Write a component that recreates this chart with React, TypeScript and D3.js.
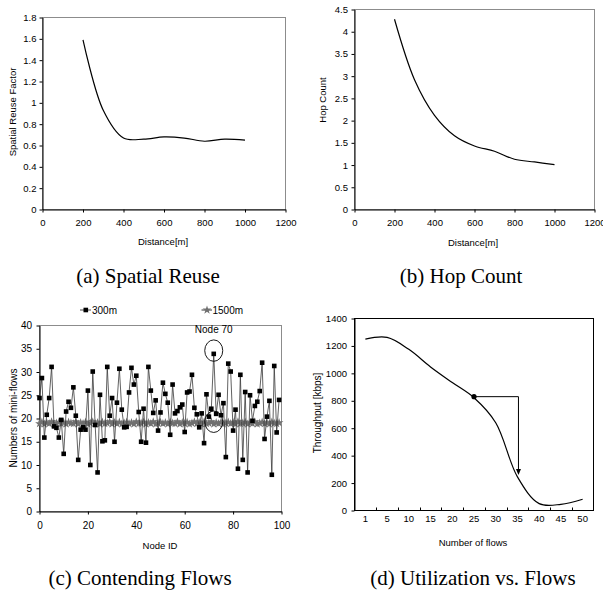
import React, { useEffect, useRef } from 'react';
import * as d3 from 'd3';

// (a) and (b)
const distances = [200, 300, 400, 500, 600, 700, 800, 900, 1000];
const reuseFactor = [1.59, 0.93, 0.67, 0.66, 0.68, 0.67, 0.64, 0.66, 0.65];
const hopCount = [4.28, 2.92, 2.12, 1.66, 1.43, 1.31, 1.13, 1.07, 1.01];
const distanceTicks = [0, 200, 400, 600, 800, 1000, 1200];
const reuseTicks = [0, 0.2, 0.4, 0.6, 0.8, 1, 1.2, 1.4, 1.6, 1.8];
const hopTicks = [0, 0.5, 1, 1.5, 2, 2.5, 3, 3.5, 4, 4.5];

// (c) contending flows per node
const flows300 = [
  24.4, 28.7, 15.9, 20.8, 24.4, 31.1, 18.3, 18.0, 15.9, 19.7,
  12.4, 21.5, 23.6, 22.3, 26.7, 20.6, 11.1, 17.6, 18.1, 17.6,
  26.0, 10.0, 30.1, 18.6, 8.4, 25.1, 15.1, 15.3, 31.1, 20.6,
  24.4, 15.0, 23.4, 30.7, 21.9, 18.1, 18.2, 25.6, 30.9, 27.3,
  29.2, 21.4, 15.0, 22.1, 14.8, 31.1, 26.0, 21.2, 23.9, 17.4,
  21.3, 27.7, 25.3, 23.4, 16.5, 27.3, 21.1, 21.6, 22.4, 23.0,
  17.1, 25.6, 25.8, 29.4, 22.3, 20.9, 18.1, 21.1, 14.7, 25.2,
  20.4, 22.1, 33.9, 21.0, 25.1, 20.7, 23.3, 11.7, 31.8, 30.1,
  17.4, 21.9, 9.2, 29.4, 11.1, 25.7, 8.4, 25.0, 19.5, 22.7,
  23.6, 25.9, 32.0, 15.6, 20.4, 23.8, 7.9, 31.3, 17.0, 24.0,
];
const flows1500 = [
  18.9, 19.2, 18.8, 19.1, 18.9, 19.3, 18.8, 19.0, 19.2, 18.9,
  19.1, 18.8, 19.2, 19.0, 18.9, 19.3, 18.8, 19.1, 18.9, 19.2,
  18.8, 19.0, 19.3, 18.9, 19.1, 18.8, 19.2, 18.9, 19.0, 19.3,
  18.8, 19.1, 18.9, 19.2, 18.8, 19.0, 19.2, 18.9, 19.1, 18.8,
  19.3, 18.9, 19.0, 19.2, 18.8, 19.1, 18.9, 19.3, 18.8, 19.0,
  19.2, 18.9, 19.1, 18.8, 19.2, 19.0, 18.9, 19.3, 18.8, 19.1,
  18.9, 19.2, 18.8, 19.0, 19.3, 18.9, 19.1, 18.8, 19.2, 18.9,
  19.0, 19.3, 18.8, 19.1, 18.9, 19.2, 18.8, 19.0, 19.2, 18.9,
  19.1, 18.8, 19.3, 18.9, 19.0, 19.2, 18.8, 19.1, 18.9, 19.3,
  18.8, 19.0, 19.2, 18.9, 19.1, 18.8, 19.2, 19.0, 18.9, 19.1,
];
const nodeTicks = [0, 20, 40, 60, 80, 100];
const miniFlowTicks = [0, 5, 10, 15, 20, 25, 30, 35, 40];
const highlightNode = 72;
const highlightLevels = [34.6, 19.3];

// (d) throughput vs number of flows
const flowCats = ['1', '5', '10', '15', '20', '25', '30', '35', '40', '45', '50'];
const throughput = [1250, 1262, 1175, 1047, 933, 822, 640, 245, 50, 45, 82];
const throughputTicks = [0, 200, 400, 600, 800, 1000, 1200, 1400];
const arrowFrom = { cat: '25', value: 830 };
const arrowTo = { cat: '35', value: 258 };

const SANS = '"Liberation Sans", Arial, sans-serif';
const SERIF = '"Liberation Serif", "Times New Roman", serif';

const styleAxis = (g, size) => {
  g.attr('font-family', SANS).attr('font-size', size);
  g.select('.domain').attr('stroke', '#000');
  g.selectAll('.tick line').attr('stroke', '#000');
  g.selectAll('.tick text').attr('fill', '#000');
};

const frame = (svg, x, y, color = '#8c8c8c') => {
  svg.append('rect')
    .attr('x', x.range()[0])
    .attr('y', y.range()[1])
    .attr('width', x.range()[1] - x.range()[0])
    .attr('height', y.range()[0] - y.range()[1])
    .attr('fill', 'none')
    .attr('stroke', color);
};

const label = (svg, text, x, y, size, rotate = false) => {
  const t = svg.append('text')
    .attr('font-family', SANS)
    .attr('font-size', size)
    .attr('text-anchor', 'middle')
    .attr('fill', '#000')
    .text(text);
  if (rotate) t.attr('transform', `translate(${x},${y}) rotate(-90)`).attr('dy', '0.35em');
  else t.attr('x', x).attr('y', y);
};

const caption = (svg, text, x, y) => {
  svg.append('text')
    .attr('x', x)
    .attr('y', y)
    .attr('font-family', SERIF)
    .attr('font-size', 21)
    .attr('text-anchor', 'middle')
    .attr('fill', '#000')
    .text(text);
};

const App = () => {
  const ref = useRef(null);

  useEffect(() => {
    const svg = d3.select(ref.current);
    svg.selectAll('*').remove();
    const fmt = d3.format('~g');
    const intFmt = d3.format('d');

    // ---------- (a) Spatial Reuse ----------
    const xA = d3.scaleLinear().domain([0, 1200]).range([42.5, 285.5]);
    const yA = d3.scaleLinear().domain([0, 1.8]).range([209.5, 17.5]);
    frame(svg, xA, yA);
    svg.append('g').attr('transform', `translate(0,${yA(0)})`)
      .call(d3.axisBottom(xA).tickValues(distanceTicks).tickFormat(intFmt).tickSize(3).tickSizeOuter(0).tickPadding(7))
      .call(g => styleAxis(g, 9.5));
    svg.append('g').attr('transform', `translate(${xA(0)},0)`)
      .call(d3.axisLeft(yA).tickValues(reuseTicks).tickFormat(fmt).tickSize(3).tickSizeOuter(0).tickPadding(3))
      .call(g => styleAxis(g, 9.5));
    svg.append('path')
      .datum(distances.map((d, i) => [d, reuseFactor[i]]))
      .attr('fill', 'none')
      .attr('stroke', '#000')
      .attr('stroke-width', 1.2)
      .attr('d', d3.line().x(d => xA(d[0])).y(d => yA(d[1])).curve(d3.curveCatmullRom));
    label(svg, 'Distance[m]', 163, 244.5, 9.5);
    label(svg, 'Spatial Reuse Factor', 13, 112, 9.5, true);
    caption(svg, '(a) Spatial Reuse', 148, 283);

    // ---------- (b) Hop Count ----------
    const xB = d3.scaleLinear().domain([0, 1200]).range([354.5, 594.5]);
    const yB = d3.scaleLinear().domain([0, 4.5]).range([209.5, 9.5]);
    frame(svg, xB, yB);
    svg.append('g').attr('transform', `translate(0,${yB(0)})`)
      .call(d3.axisBottom(xB).tickValues(distanceTicks).tickFormat(intFmt).tickSize(3).tickSizeOuter(0).tickPadding(7))
      .call(g => styleAxis(g, 9.5));
    svg.append('g').attr('transform', `translate(${xB(0)},0)`)
      .call(d3.axisLeft(yB).tickValues(hopTicks).tickFormat(fmt).tickSize(3).tickSizeOuter(0).tickPadding(3.5))
      .call(g => styleAxis(g, 9.5));
    svg.append('path')
      .datum(distances.map((d, i) => [d, hopCount[i]]))
      .attr('fill', 'none')
      .attr('stroke', '#000')
      .attr('stroke-width', 1.2)
      .attr('d', d3.line().x(d => xB(d[0])).y(d => yB(d[1])).curve(d3.curveCatmullRom));
    label(svg, 'Distance[m]', 473, 246, 9.5);
    label(svg, 'Hop Count', 323, 100, 9.5, true);
    caption(svg, '(b) Hop Count', 461, 283);

    // ---------- (c) Contending Flows ----------
    const xC = d3.scaleLinear().domain([0, 100]).range([39.5, 281.5]);
    const yC = d3.scaleLinear().domain([0, 40]).range([511.5, 325.5]);
    frame(svg, xC, yC);
    svg.append('g').attr('transform', `translate(0,${yC(0)})`)
      .call(d3.axisBottom(xC).tickValues(nodeTicks).tickSize(3).tickSizeOuter(0).tickPadding(7))
      .call(g => styleAxis(g, 10));
    svg.append('g').attr('transform', `translate(${xC(0)},0)`)
      .call(d3.axisLeft(yC).tickValues(miniFlowTicks).tickSize(3).tickSizeOuter(0).tickPadding(4.5))
      .call(g => styleAxis(g, 10));

    const lineC = d3.line().x((d, i) => xC(i)).y(d => yC(d));
    const star = d3.symbol().type(d3.symbolStar).size(24);

    svg.append('path').datum(flows1500)
      .attr('fill', 'none').attr('stroke', '#707070').attr('stroke-width', 1.6).attr('d', lineC);
    svg.append('g').selectAll('path').data(flows1500).enter().append('path')
      .attr('transform', (d, i) => `translate(${xC(i)},${yC(d)})`)
      .attr('d', star)
      .attr('fill', '#707070');

    svg.append('path').datum(flows300)
      .attr('fill', 'none').attr('stroke', '#3a3a3a').attr('stroke-width', 0.8).attr('d', lineC);
    svg.append('g').selectAll('rect').data(flows300).enter().append('rect')
      .attr('x', (d, i) => xC(i) - 2.3)
      .attr('y', d => yC(d) - 2.3)
      .attr('width', 4.6)
      .attr('height', 4.6)
      .attr('fill', '#000');

    svg.append('g').selectAll('ellipse').data(highlightLevels).enter().append('ellipse')
      .attr('cx', xC(highlightNode))
      .attr('cy', d => yC(d))
      .attr('rx', 9)
      .attr('ry', 10.7)
      .attr('fill', 'none')
      .attr('stroke', '#000')
      .attr('stroke-width', 0.9);
    label(svg, 'Node 70', xC(highlightNode), yC(38.3), 10);

    // legend
    svg.append('line').attr('x1', 80).attr('x2', 91).attr('y1', 310).attr('y2', 310)
      .attr('stroke', '#3a3a3a').attr('stroke-width', 0.9);
    svg.append('rect').attr('x', 83.5).attr('y', 307.7).attr('width', 4.6).attr('height', 4.6).attr('fill', '#000');
    svg.append('text').attr('x', 92).attr('y', 313.5).attr('font-family', SANS).attr('font-size', 10).text('300m');
    svg.append('line').attr('x1', 201.5).attr('x2', 212).attr('y1', 310).attr('y2', 310)
      .attr('stroke', '#707070').attr('stroke-width', 1.4);
    svg.append('path').attr('transform', 'translate(207,310)').attr('d', star).attr('fill', '#707070');
    svg.append('text').attr('x', 212.5).attr('y', 313.5).attr('font-family', SANS).attr('font-size', 10).text('1500m');

    label(svg, 'Node ID', 160, 548.5, 9.5);
    label(svg, 'Numbers of mini-flows', 13, 418, 10, true);
    caption(svg, '(c) Contending Flows', 140, 585);

    // ---------- (d) Utilization vs. Flows ----------
    const xD = d3.scaleBand().domain(flowCats).range([354.5, 593.5]).padding(0);
    const yD = d3.scaleLinear().domain([0, 1400]).range([510.5, 318.5]);
    const cx = c => xD(c) + xD.bandwidth() / 2;
    frame(svg, xD, yD, '#000');
    svg.append('g').attr('transform', `translate(${xD.range()[0]},0)`)
      .call(d3.axisLeft(yD).tickValues(throughputTicks).tickFormat(intFmt).tickSize(3).tickSizeOuter(0).tickPadding(4.5))
      .call(g => styleAxis(g, 9.5));
    svg.append('g').selectAll('line').data(flowCats.slice(1)).enter().append('line')
      .attr('x1', d => Math.round(xD(d)) + 0.5)
      .attr('x2', d => Math.round(xD(d)) + 0.5)
      .attr('y1', yD(0))
      .attr('y2', yD(0) - 3)
      .attr('stroke', '#000');
    svg.append('g').selectAll('text').data(flowCats).enter().append('text')
      .attr('x', d => cx(d))
      .attr('y', yD(0) + 11)
      .attr('text-anchor', 'middle')
      .attr('font-family', SANS)
      .attr('font-size', 9.5)
      .text(d => d);
    svg.append('path')
      .datum(flowCats.map((c, i) => [c, throughput[i]]))
      .attr('fill', 'none')
      .attr('stroke', '#000')
      .attr('stroke-width', 1.2)
      .attr('d', d3.line().x(d => cx(d[0])).y(d => yD(d[1])).curve(d3.curveCatmullRom));

    const ax = cx(arrowFrom.cat);
    const ay = yD(arrowFrom.value);
    const bx = cx(arrowTo.cat) + 1;
    const by = yD(arrowTo.value);
    svg.append('path')
      .attr('d', `M${ax},${ay}H${bx}V${by - 5}`)
      .attr('fill', 'none')
      .attr('stroke', '#000')
      .attr('stroke-width', 1);
    svg.append('path')
      .attr('d', `M${bx - 2.5},${by - 6}L${bx + 2.5},${by - 6}L${bx},${by}Z`)
      .attr('fill', '#000');
    svg.append('circle').attr('cx', ax).attr('cy', ay).attr('r', 2.6).attr('fill', '#000');

    label(svg, 'Number of flows', 473, 546, 9.5);
    label(svg, 'Throughput [kbps]', 317, 413, 10, true);
    caption(svg, '(d) Utilization vs. Flows', 473, 585);
  }, []);

  return (
    <svg
      ref={ref}
      width={603}
      height={590}
      style={{ position: 'absolute', left: 0, top: 0, background: '#fff' }}
    />
  );
};

export default App;
